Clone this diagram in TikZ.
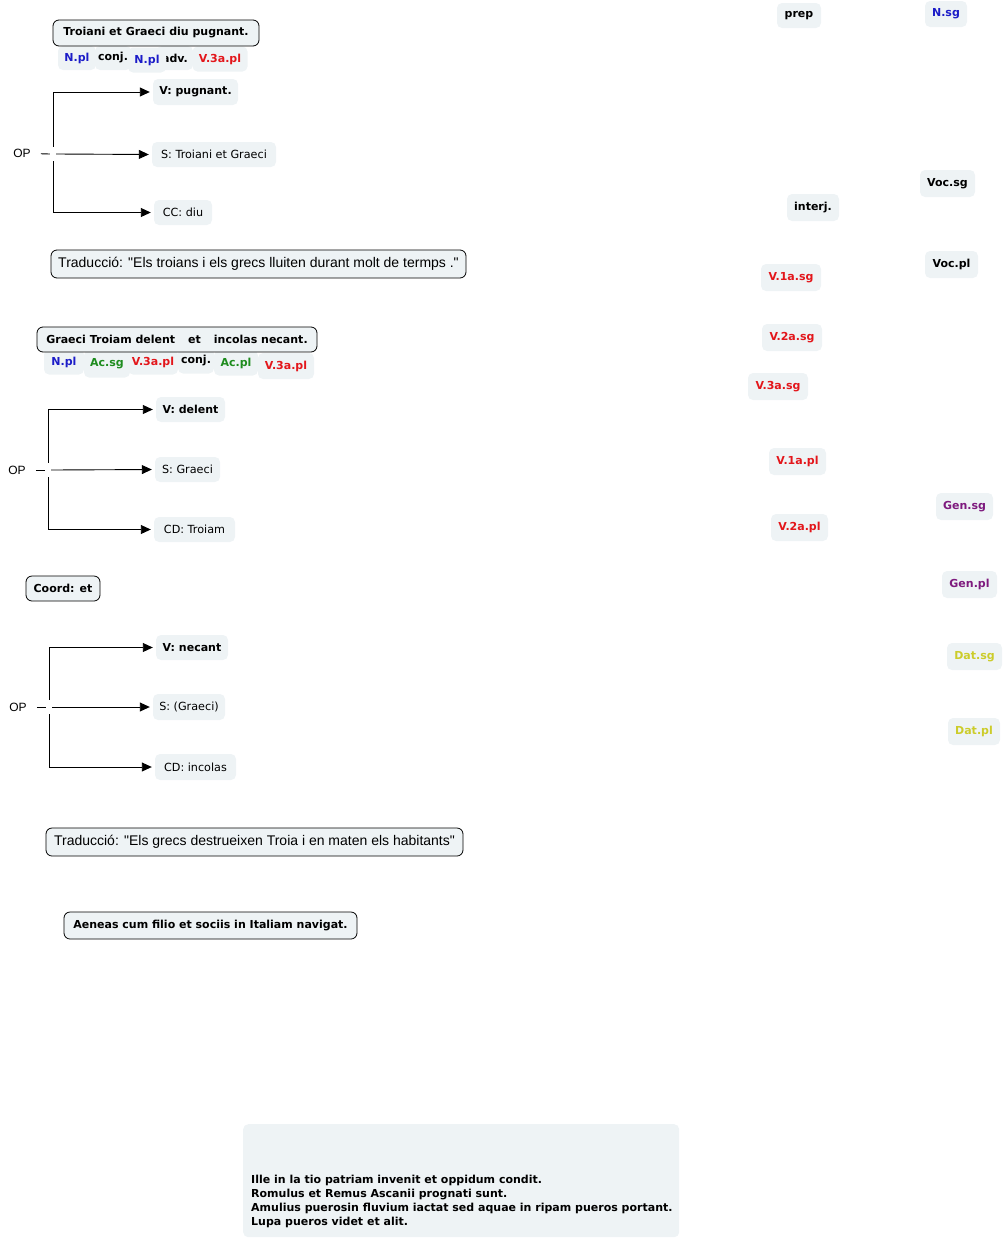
\documentclass[tikz,border=0pt]{standalone}
\usepackage{fontspec}
\setmainfont{DejaVu Sans}
\newfontfamily\arialfont{Liberation Sans}
\usetikzlibrary{arrows.meta}
\definecolor{boxfill}{HTML}{EEF3F5}
\definecolor{tblue}{HTML}{1C1CC8}
\definecolor{tred}{HTML}{E3161B}
\definecolor{tgreen}{HTML}{1E8C1E}
\definecolor{tpurple}{HTML}{7E1A7E}
\definecolor{tyellow}{HTML}{CCCC2A}
\tikzset{
  lbl/.style={fill=boxfill, rounded corners=5pt, inner sep=0pt, font=\fontsize{11}{13}\selectfont\bfseries},
  reg/.style={fill=boxfill, rounded corners=5pt, inner sep=0pt, font=\fontsize{11.2}{13}\selectfont},
  bord/.style={lbl, draw=black, line width=0.8pt, rounded corners=6pt},
  trad/.style={fill=boxfill, draw=black, line width=0.8pt, rounded corners=6pt, inner sep=0pt, font=\arialfont\fontsize{14}{16}\selectfont},
  optext/.style={inner sep=0pt, font=\arialfont\fontsize{12}{14}\selectfont},
  junc/.style={inner sep=0pt, minimum width=6pt, minimum height=14pt},
  arr/.style={line width=0.9pt, -{Triangle[length=10pt,width=9pt]}, shorten >=3pt},
  plain/.style={line width=0.9pt},
  sz/.style 2 args={minimum width=#1pt, minimum height=#2pt}
}
\begin{document}
\begin{tikzpicture}[x=1pt,y=-1pt]
\useasboundingbox (0,0) rectangle (1004,1240);

% ---------- block 1 ----------
\node[lbl, sz={38}{24}, text=tblue] (a1) at (77,58) {N.pl};
\node[lbl, sz={36}{24}] (a2) at (113,58) {conj.};
\node[lbl, sz={36}{24}] (a4) at (175,58) {adv.};
\node[lbl, sz={38}{25}, text=tblue] (a3) at (147,60) {N.pl};
\node[lbl, sz={55}{25}, text=tred] (a5) at (220,59) {V.3a.pl};
\node[bord, sz={206}{26}] (sent1) at (156,33) {Troiani et Graeci diu pugnant.};

\node[lbl, sz={85}{26}] (v1) at (195.5,92) {V: pugnant.};
\node[reg, sz={124}{25}] (s1) at (214,154.5) {S: Troiani et Graeci};
\node[reg, sz={58}{25}] (cc1) at (183,212.5) {CC: diu};
\node[optext] (op1) at (22,153.5) {OP};
\node[junc] (j1) at (53,154) {};
\draw[plain, shorten <=10pt] (op1.east) -- (j1.west);
\draw[arr] (j1.east) -- (s1.west);
\draw[arr] (j1.north) |- (v1.west);
\draw[arr] (j1.south) |- (cc1.west);
\node[trad, sz={415}{28}] (tr1) at (258.5,264) {Traducció: "Els troians i els grecs lluiten durant molt de termps ."};

% ---------- block 2 ----------
\node[lbl, sz={40}{25}, text=tblue] (b1) at (64,362) {N.pl};
\node[lbl, sz={46}{27}, text=tgreen] (b2) at (107,364) {Ac.sg};
\node[lbl, sz={50}{25}, text=tred] (b3) at (153,362) {V.3a.pl};
\node[lbl, sz={36}{25}] (b4) at (196,361) {conj.};
\node[lbl, sz={44}{25}, text=tgreen] (b5) at (236,363) {Ac.pl};
\node[lbl, sz={56}{26}, text=tred] (b6) at (286,366) {V.3a.pl};
\node[bord, sz={280}{25}] (sent2) at (177,339.5) {Graeci Troiam delent\hspace{13pt}et\hspace{13pt}incolas necant.};

\node[lbl, sz={69}{25}] (v2) at (190.5,409.5) {V: delent};
\node[reg, sz={65}{25}] (s2) at (187.5,469.5) {S: Graeci};
\node[reg, sz={81}{25}] (cd2) at (194.5,529.5) {CD: Troiam};
\node[optext] (op2) at (17,470) {OP};
\node[junc] (j2) at (48,470) {};
\draw[plain, shorten <=10pt] (op2.east) -- (j2.west);
\draw[arr] (j2.east) -- (s2.west);
\draw[arr] (j2.north) |- (v2.west);
\draw[arr] (j2.south) |- (cd2.west);

\node[bord, sz={74}{25}] (coord) at (63,588.5) {Coord: et};

% ---------- block 3 ----------
\node[lbl, sz={72}{25}] (v3) at (192,647.5) {V: necant};
\node[reg, sz={72}{26}] (s3) at (189,707) {S: (Graeci)};
\node[reg, sz={81}{26}] (cd3) at (195.5,767) {CD: incolas};
\node[optext] (op3) at (18,707) {OP};
\node[junc] (j3) at (49,707) {};
\draw[plain, shorten <=10pt] (op3.east) -- (j3.west);
\draw[arr] (j3.east) -- (s3.west);
\draw[arr] (j3.north) |- (v3.west);
\draw[arr] (j3.south) |- (cd3.west);

\node[trad, sz={417}{28}] (tr2) at (254.5,842) {Traducció: "Els grecs destrueixen Troia i en maten els habitants"};

\node[bord, sz={293}{27}] (aen) at (210.5,925.5) {Aeneas cum filio et sociis in Italiam navigat.};

% ---------- bottom box ----------
\node[lbl, sz={436}{113}, anchor=north west] (bot) at (243,1124) {};
\node[inner sep=0pt, anchor=south west, align=left, font=\fontsize{11}{14}\selectfont\bfseries] (bottxt) at ([shift={(8,-9)}]bot.south west) {Ille in la tio patriam invenit et oppidum condit.\\Romulus et Remus Ascanii prognati sunt.\\Amulius puerosin fluvium iactat sed aquae in ripam pueros portant.\\Lupa pueros videt et alit.};

% ---------- right column ----------
\node[lbl, sz={44}{25}] (prep) at (799,15.5) {prep};
\node[lbl, sz={42}{26}, text=tblue] (nsg) at (946,14) {N.sg};
\node[lbl, sz={55}{27}] (vocsg) at (947.5,183.5) {Voc.sg};
\node[lbl, sz={52}{27}] (interj) at (813,207.5) {interj.};
\node[lbl, sz={53}{27}] (vocpl) at (951.5,264.5) {Voc.pl};
\node[lbl, sz={60}{27}, text=tred] (v1asg) at (791,277.5) {V.1a.sg};
\node[lbl, sz={60}{27}, text=tred] (v2asg) at (792,337.5) {V.2a.sg};
\node[lbl, sz={60}{27}, text=tred] (v3asg) at (778,386.5) {V.3a.sg};
\node[lbl, sz={57}{27}, text=tred] (v1apl) at (797.5,461.5) {V.1a.pl};
\node[lbl, sz={57}{27}, text=tpurple] (gensg) at (964.5,506.5) {Gen.sg};
\node[lbl, sz={57}{27}, text=tred] (v2apl) at (799.5,527.5) {V.2a.pl};
\node[lbl, sz={55}{27}, text=tpurple] (genpl) at (969.5,584.5) {Gen.pl};
\node[lbl, sz={55}{27}, text=tyellow] (datsg) at (974.5,656.5) {Dat.sg};
\node[lbl, sz={52}{27}, text=tyellow] (datpl) at (974,731.5) {Dat.pl};
\end{tikzpicture}
\end{document}
